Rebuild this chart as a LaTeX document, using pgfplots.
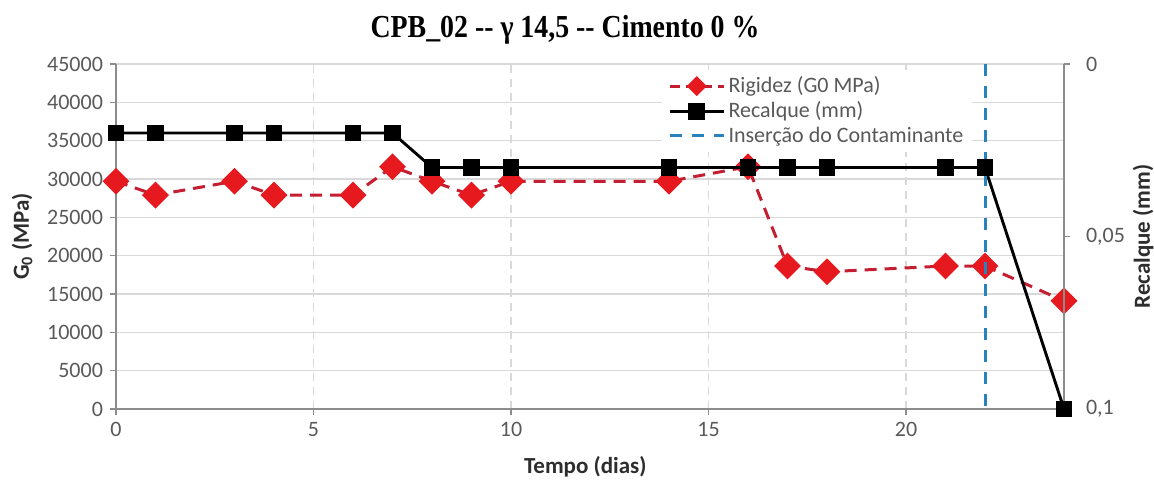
\documentclass[border=0pt]{standalone}
\usepackage{fontspec}
\setmainfont{Carlito}
\newfontfamily\titlefont{Liberation Serif}
\usepackage{graphicx}
\usepackage{pgfplots}
\usepackage{pgfplotstable}
\pgfplotsset{compat=1.18}
\definecolor{gridc}{RGB}{217,217,217}
\definecolor{axc}{RGB}{140,140,140}
\definecolor{tickc}{RGB}{89,89,89}
\definecolor{labc}{RGB}{45,45,45}
\definecolor{redm}{RGB}{230,25,30}
\definecolor{redl}{RGB}{195,30,50}
\definecolor{bluel}{RGB}{40,130,190}
\pgfplotstableread{
x g
0 29700
1 27900
3 29700
4 27900
6 27900
7 31600
8 29700
9 27900
10 29700
14 29700
16 31600
17 18650
18 17900
21 18650
22 18650
24 14100
}\rig
\pgfplotstableread{
x r
0 0.02
1 0.02
3 0.02
4 0.02
6 0.02
7 0.02
8 0.03
9 0.03
10 0.03
14 0.03
16 0.03
17 0.03
18 0.03
21 0.03
22 0.03
24 0.1
}\rec
\pgfplotsset{
  common/.style={
    scale only axis, width=474pt, height=172.5pt,
    xmin=0, xmax=24,
    axis line style={axc, line width=0.8pt, -},
    tick align=outside, major tick length=3pt,
    tick style={axc, line width=0.8pt},
    ticklabel style={font=\fontsize{11}{11}\selectfont, text=tickc},
    /pgf/number format/assume math mode=true,
  },
  rigstyle/.style={redl, line width=1.5pt, dash pattern=on 6pt off 4pt,
    mark=square*, mark size=4pt,
    mark options={solid, fill=redm, draw=redm, rotate=45}},
}
\begin{document}
\begin{tikzpicture}
\begin{axis}[common, name=ax,
  ymin=0, ymax=45000,
  xtick={0,5,10,15,20}, ytick={0,5000,...,45000},
  axis x line*=bottom, axis y line*=left,
  xmajorgrids, ymajorgrids,
  x grid style={gridc, dash pattern=on 4pt off 3pt, line width=0.6pt},
  y grid style={gridc, line width=0.8pt},
  /pgf/number format/1000 sep={}, scaled y ticks=false,
  xlabel={\textbf{Tempo (dias)}},
  xlabel style={font=\fontsize{11.5}{11.5}\selectfont, text=labc, at={(axis description cs:0.495,-0.168)}, anchor=center},
  ylabel={\textbf{G\textsubscript{0} (MPa)}},
  ylabel style={font=\fontsize{11.5}{11.5}\selectfont, text=labc, at={(axis description cs:-0.099,0.5)}, anchor=center, rotate=0},
]
\addplot[rigstyle] table[x=x, y=g] {\rig};
\end{axis}
\begin{axis}[common,
  ymin=0, ymax=0.1, y dir=reverse,
  hide x axis, axis y line*=right,
  ytick={0,0.05,0.1},
  yticklabel style={xshift=4.5pt},
  /pgf/number format/.cd, use comma, fixed, precision=2,
  /pgfplots/.cd,
  scaled y ticks=false,
  ylabel={\textbf{Recalque (mm)}},
  ylabel style={font=\fontsize{11.5}{11.5}\selectfont, text=labc, at={(axis description cs:1.0834,0.5)}, anchor=center, rotate=0},
  legend style={at={(0.576,0.985)}, anchor=north west, draw=none, fill=white,
    font=\fontsize{11}{11}\selectfont, text=tickc, row sep=0pt, nodes={inner sep=1.5pt}},
  legend cell align=left,
  legend image code/.code={\draw[mark repeat=2, mark phase=2, #1] plot coordinates {(0cm,0cm) (0.47cm,0cm) (0.95cm,0cm)};},
]
\addlegendimage{rigstyle, mark size=2.8pt, dash pattern=on 5pt off 3pt}
\addlegendentry{Rigidez (G0 MPa)}
\addplot[black, line width=1.45pt, mark=square*, mark size=3.5pt] table[x=x, y=r] {\rec};
\addlegendentry{Recalque (mm)}
\addplot[bluel, line width=1.5pt, dash pattern=on 6pt off 5pt] coordinates {(22,0) (22,0.1)};
\addlegendentry{Inserção do Contaminante}
\end{axis}
\node[font=\titlefont\bfseries\fontsize{16}{16}\selectfont] at ([shift={(224.5pt,17pt)}]ax.north west)
  {\scalebox{0.87}[1]{CPB\_02 -{}- γ 14,5 -{}- Cimento 0 \%}};
\pgfresetboundingbox
\path[use as bounding box] ([shift={(-58pt,-37.5pt)}]ax.south west) rectangle ([shift={(45pt,32pt)}]ax.north east);
\end{tikzpicture}
\end{document}
